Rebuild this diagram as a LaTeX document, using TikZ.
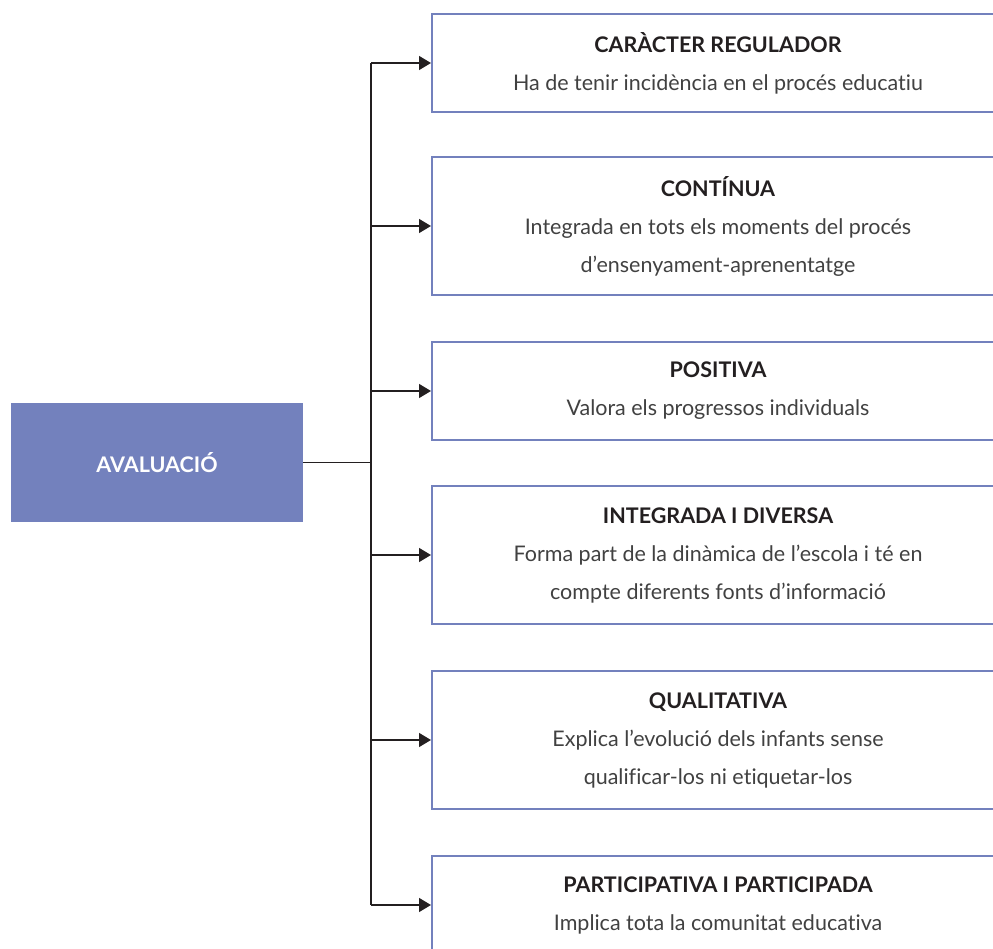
\documentclass[tikz,border=0pt]{standalone}
\usepackage{fontspec}
\setmainfont{Lato}[RawFeature={-liga}]
\usetikzlibrary{arrows.meta, positioning}
\definecolor{AvalBlue}{RGB}{115, 129, 189}
\definecolor{AvalDark}{RGB}{35, 31, 32}
\definecolor{AvalGrey}{RGB}{65, 65, 65}

\begin{document}
\begin{tikzpicture}[
    x=1pt, y=-1pt,
    font=\fontsize{21.5}{38}\selectfont,
    root/.style={
        fill=AvalBlue,             % solid block for the main concept
        text=white,
        font=\fontsize{21.5}{24}\selectfont\bfseries,
        minimum width=292pt,
        minimum height=119pt,
        inner sep=0pt
    },
    feature/.style={
        draw=AvalBlue,             % thin outline boxes on the right
        line width=2pt,
        fill=white,
        text=AvalGrey,
        align=center,
        minimum width=572pt,
        inner sep=0pt
    },
    link/.style={
        draw=AvalDark,
        line width=1.3pt
    },
    arrow/.style={
        link,
        -{Triangle[length=12pt, width=14pt]}
    }
]
    \clip (0,0) rectangle (993,949);

    % --- 1. Main concept ---
    \node[root] (aval) at (157,462.5) {AVALUACIÓ};

    % --- 2. Features ---
    \node[feature, minimum height=98pt] (regul) at (718,63)
        {\textcolor{AvalDark}{\bfseries CARÀCTER REGULADOR}\\
         Ha de tenir incidència en el procés educatiu};
    \node[feature, minimum height=138pt] (contin) at (718,226)
        {\textcolor{AvalDark}{\bfseries CONTÍNUA}\\
         Integrada en tots els moments del procés\\
         d’ensenyament-aprenentatge};
    \node[feature, minimum height=98pt] (posit) at (718,391)
        {\textcolor{AvalDark}{\bfseries POSITIVA}\\
         Valora els progressos individuals};
    \node[feature, minimum height=138pt] (integr) at (718,555)
        {\textcolor{AvalDark}{\bfseries INTEGRADA I DIVERSA}\\
         Forma part de la dinàmica de l’escola i té en\\
         compte diferents fonts d’informació};
    \node[feature, minimum height=138pt] (qualit) at (718,740)
        {\textcolor{AvalDark}{\bfseries QUALITATIVA}\\
         Explica l’evolució dels infants sense\\
         qualificar-los ni etiquetar-los};
    \node[feature, minimum height=98pt] (partic) at (718,905)
        {\textcolor{AvalDark}{\bfseries PARTICIPATIVA I PARTICIPADA}\\
         Implica tota la comunitat educativa};

    % --- 3. Connectors ---
    \coordinate (spine) at (371,462.5);
    \draw[link] (aval.east) -- (spine);
    \draw[link] (spine |- regul.west) -- (spine |- partic.west);

    \foreach \target in {regul, contin, posit, integr, qualit, partic}
        \draw[arrow] (spine |- \target.west) -- (\target.west);

\end{tikzpicture}
\end{document}
